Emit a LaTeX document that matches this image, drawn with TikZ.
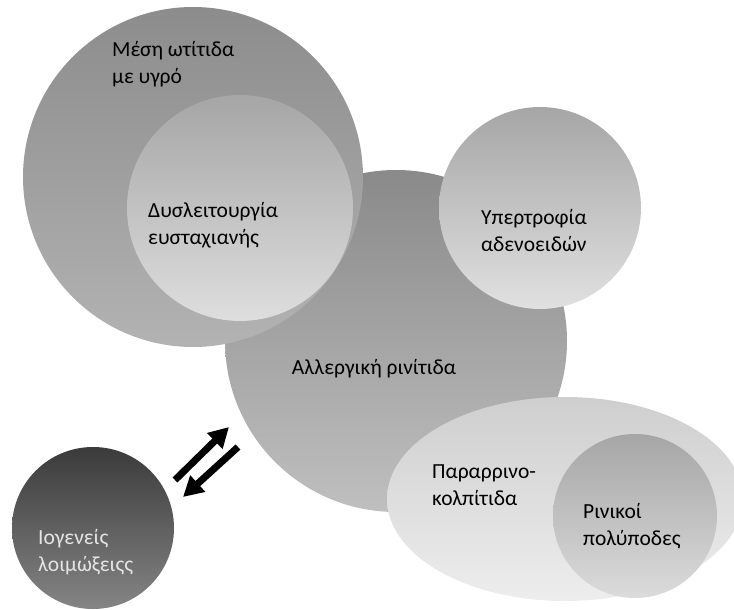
\documentclass[tikz,border=0pt]{standalone}
\usepackage{fontspec}
\setmainfont{Carlito}
\usetikzlibrary{arrows.meta,shapes.geometric}
\begin{document}
\begin{tikzpicture}[x=1pt,y=-1pt,
  blob/.style={circle,inner sep=0pt,draw=none},
  lbl/.style={font=\fontsize{21.5}{27}\selectfont,align=left,anchor=west,inner sep=0pt,text=black},
  bigarrow/.style={line width=7pt,-{Triangle[width=21pt,length=20pt]}}]
\useasboundingbox (0,0) rectangle (734,610);
% central circle
\node[blob,minimum size=342pt,top color=black!46,bottom color=black!25] (allergy) at (396,341) {};
\node[font=\fontsize{21.5}{27}\selectfont,inner sep=0pt] (allergyT) at (374,369) {Αλλεργική ρινίτιδα};
% top-left big circle
\node[blob,minimum size=340pt,top color=black!45,bottom color=black!30] (otitis) at (193,177) {};
\node[blob,minimum size=226pt,top color=black!35,bottom color=black!13] (eust) at (240,208) {};
\node[lbl] (otitisT) at (112,64) {Μέση ωτίτιδα\\με υγρό};
\node[lbl] (eustT) at (148,225) {Δυσλειτουργία\\ευσταχιανής};
% top-right circle
\node[blob,minimum size=202pt,top color=black!35,bottom color=black!12] (adeno) at (540,208) {};
\node[lbl] (adenoT) at (481,231) {Υπερτροφία\\αδενοειδών};
% ellipse
\node[ellipse,inner sep=0pt,minimum width=356pt,minimum height=204pt,top color=black!19,bottom color=black!7] (sinus) at (565,499) {};
\node[blob,minimum size=164pt,top color=black!35,bottom color=black!14] (polyp) at (635,516) {};
\node[lbl] (sinusT) at (432,485) {Παραρρινο-\\κολπίτιδα};
\node[lbl] (polypT) at (583,526) {Ρινικοί\\πολύποδες};
% dark circle
\node[blob,minimum size=162pt,top color=black!77,bottom color=black!48] (viral) at (93,528) {};
\node[lbl,text=black!10] (viralT) at (38,552) {Ιογενείς\\λοιμώξειςς};
% arrows
\coordinate (u1) at (175,480);
\coordinate (u2) at (229,427);
\coordinate (d1) at (238,447);
\coordinate (d2) at (183,497);
\draw[bigarrow] (u1) -- (u2);
\draw[bigarrow] (d1) -- (d2);
\end{tikzpicture}
\end{document}
